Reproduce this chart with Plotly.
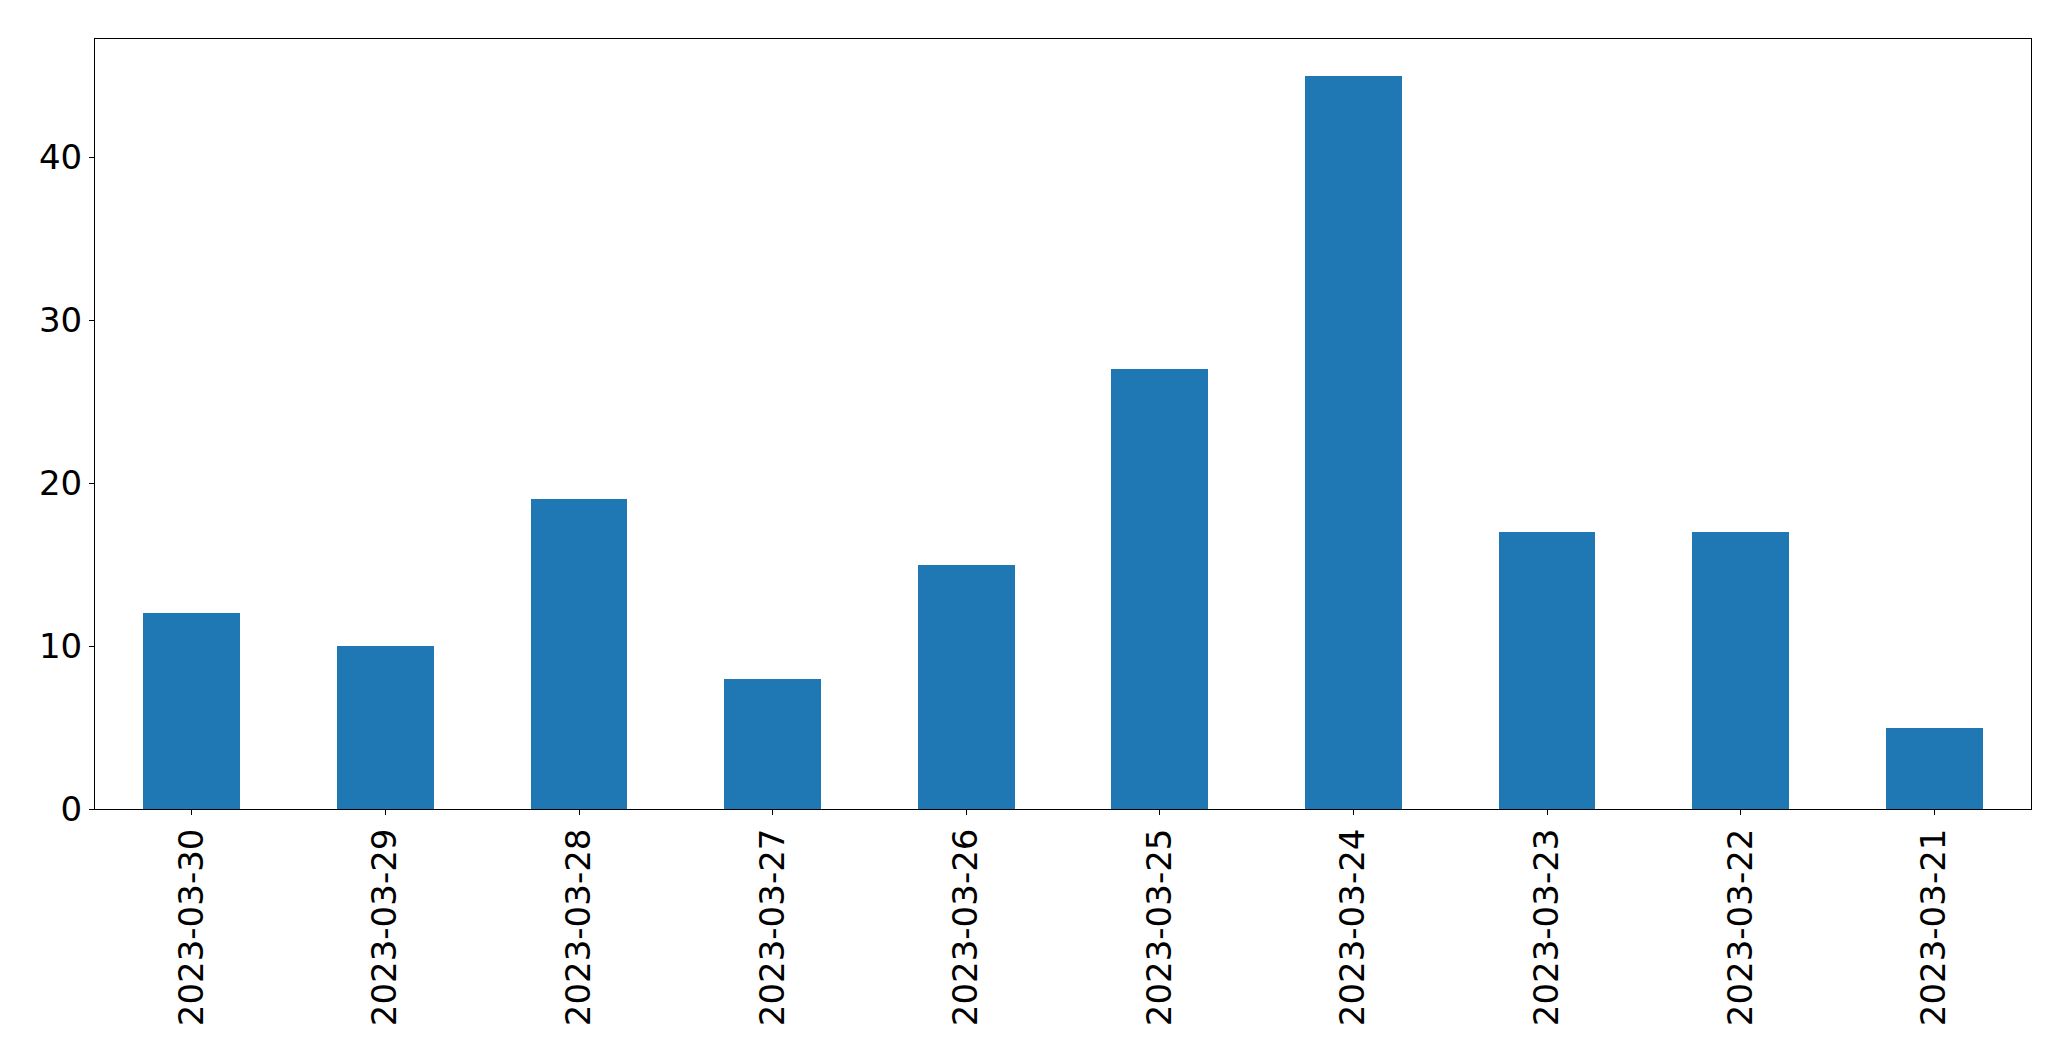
import plotly.graph_objects as go

dates = ["2023-03-30", "2023-03-29", "2023-03-28", "2023-03-27", "2023-03-26",
         "2023-03-25", "2023-03-24", "2023-03-23", "2023-03-22", "2023-03-21"]
counts = [12, 10, 19, 8, 15, 27, 45, 17, 17, 5]
y_ticks = [0, 10, 20, 30, 40]

fig = go.Figure(go.Bar(x=dates, y=counts, marker_color="#1f77b4",
                       marker_line_width=0, width=0.5))

font = dict(family="DejaVu Sans", size=34, color="black")
fig.update_layout(
    width=2071, height=1061,
    margin=dict(l=95, r=40, t=39, b=252),
    paper_bgcolor="white", plot_bgcolor="white",
    showlegend=False,
    font=font,
    bargap=0,
)
fig.update_xaxes(type="category", range=[-0.5, len(dates) - 0.5],
                 tickangle=-90, ticks="outside", ticklen=5, tickcolor="black",
                 tickwidth=1, showline=True, linecolor="black", linewidth=1,
                 mirror=True, showgrid=False, tickfont=font, ticklabelstandoff=0)
fig.update_yaxes(range=[0, max(counts) * 1.05], tickvals=y_ticks,
                 ticks="outside", ticklen=5, tickcolor="black", tickwidth=1,
                 showline=True, linecolor="black", linewidth=1, mirror=True,
                 showgrid=False, zeroline=False, tickfont=font, ticklabelstandoff=0)

fig.write_html("out.html")
